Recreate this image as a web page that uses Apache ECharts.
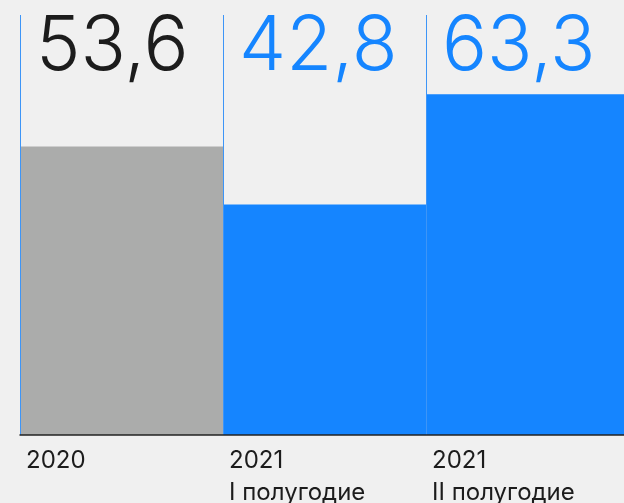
<!DOCTYPE html>
<html><head><meta charset="utf-8">
<script src="https://cdn.jsdelivr.net/npm/echarts@6/dist/echarts.min.js"></script>
<style>html,body{margin:0;padding:0;background:#f0f0f0}#c{width:624px;height:503px}</style>
</head><body><div id="c"></div>
<script>
var categories = ['2020', '2021\nI полугодие', '2021\nII полугодие'];
var values = [53.6, 42.8, 63.3];
var valueLabels = ['53,6', '42,8', '63,3'];
var barColors = ['#abacab', '#1585ff', '#1585ff'];
var labelColors = ['#1c1c1c', '#1585ff', '#1585ff'];
var yMax = 78;

var chart = echarts.init(document.getElementById('c'));
chart.setOption({
  backgroundColor: '#f0f0f0',
  animation: false,
  grid: {left: 20, width: 609, top: 15, height: 420, containLabel: false, outerBoundsMode: 'none'},
  xAxis: [{
    type: 'category', data: categories, boundaryGap: true, z: 5, offset: 4,
    axisLine: {show: true, lineStyle: {color: '#222', width: 1.5}},
    axisTick: {show: false}, axisLabel: {show: false},
    splitLine: {show: true, lineStyle: {color: '#3d95f7', width: 1}}
  }, {
    type: 'value', min: 0, max: 3, interval: 1, position: 'bottom', offset: 4,
    axisLine: {show: false}, axisTick: {show: false}, splitLine: {show: false},
    axisLabel: {
      show: true, align: 'left', margin: 6, padding: [0, 0, 0, 6],
      showMaxLabel: false, hideOverlap: false,
      fontFamily: 'Inter', fontSize: 24, lineHeight: 32, color: '#1c1c1c',
      formatter: function (v) { return categories[v] || ''; }
    }
  }],
  yAxis: {type: 'value', min: 0, max: yMax, show: false, splitLine: {show: false}},
  series: [{
    type: 'bar', xAxisIndex: 0, barWidth: '100%', barGap: '-100%',
    data: values.map(function (v, i) { return {value: v, itemStyle: {color: barColors[i]}}; })
  }, {
    type: 'bar', xAxisIndex: 0, barWidth: '100%', barGap: '-100%', silent: true,
    itemStyle: {color: 'rgba(0,0,0,0)'},
    data: values.map(function (v, i) {
      return {value: yMax, label: {
        show: true, position: [16, -5], align: 'left', verticalAlign: 'top',
        fontFamily: 'Inter', fontWeight: 300, fontSize: 75, color: labelColors[i],
        formatter: function () { return valueLabels[i]; }
      }};
    })
  }]
});
</script></body></html>
